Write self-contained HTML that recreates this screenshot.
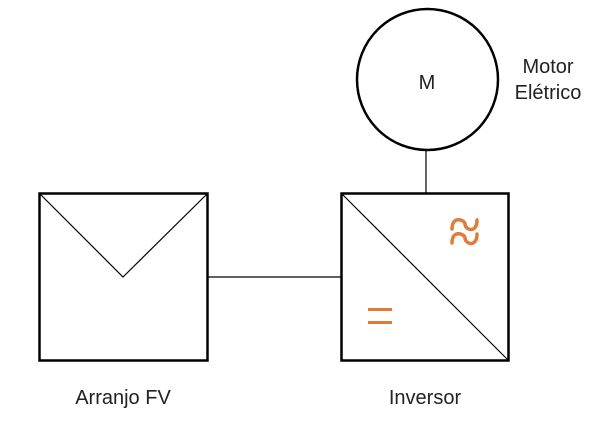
<!DOCTYPE html>
<html><head><style>body{margin:0;background:#fff}svg{display:block}</style></head>
<body>
<svg width="612" height="422" viewBox="0 0 612 422" xmlns="http://www.w3.org/2000/svg" font-family="Liberation Sans, sans-serif">
<rect x="39.5" y="193.5" width="168" height="167" fill="none" stroke="#000" stroke-width="2.5"/>
<polyline points="40,194 123,277 207,194" fill="none" stroke="#000" stroke-width="1.2"/>
<rect x="341.5" y="193.5" width="167" height="167" fill="none" stroke="#000" stroke-width="2.5"/>
<line x1="342" y1="194" x2="508" y2="360" stroke="#000" stroke-width="1.2"/>
<line x1="208" y1="277" x2="341" y2="277" stroke="#000" stroke-width="1.2"/>
<circle cx="427.5" cy="79.5" r="70.5" fill="none" stroke="#000" stroke-width="2.5"/>
<line x1="426" y1="151" x2="426" y2="193" stroke="#000" stroke-width="1.2"/>
<g fill="#222">
<text x="427" y="89" font-size="20" text-anchor="middle">M</text>
<text x="548" y="73" font-size="20" text-anchor="middle">Motor</text>
<text x="548" y="99" font-size="20" text-anchor="middle">Elétrico</text>
<text x="123" y="404" font-size="20" text-anchor="middle">Arranjo FV</text>
<text x="425" y="404" font-size="20" text-anchor="middle">Inversor</text>
</g>
<rect x="368" y="308" width="24" height="3" fill="#E07B39"/>
<rect x="368" y="321" width="24" height="3" fill="#E07B39"/>
<g fill="none" stroke="#E07B39" stroke-width="3.5" stroke-linecap="round">
<path d="M452,229 C452,215 465,220 465,224 C465,230 477,234 477,220"/>
<path d="M452,243 C452,229 465,234 465,238 C465,244 477,248 477,234"/>
</g>
</svg>
</body></html>
